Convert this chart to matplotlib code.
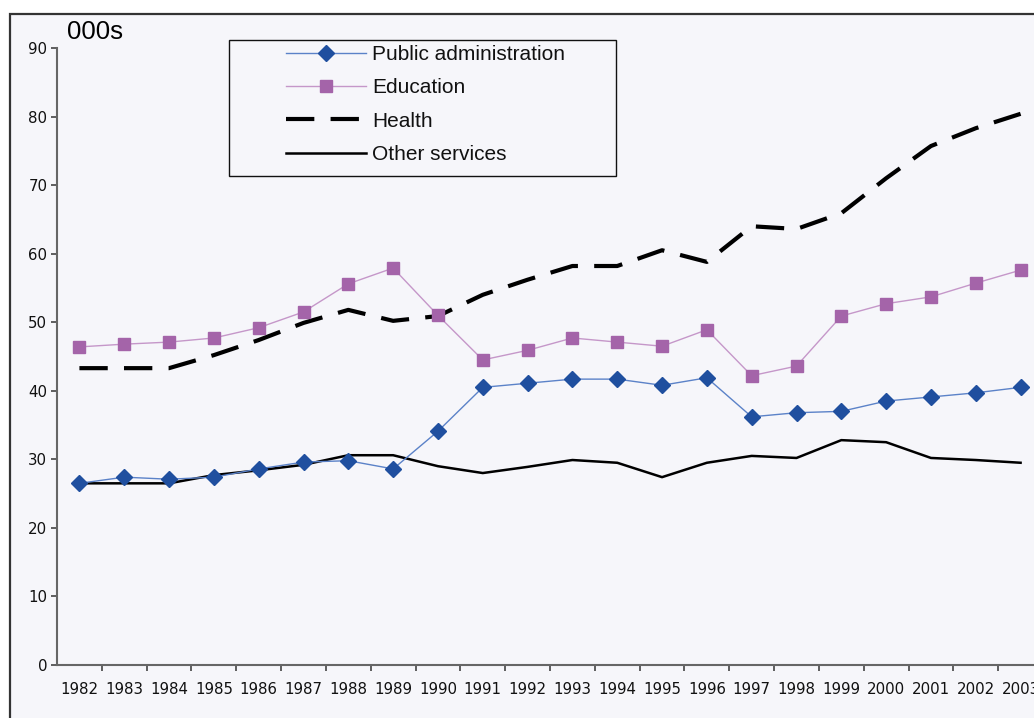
import matplotlib.pyplot as plt
from matplotlib.patches import Rectangle

years = [str(y) for y in range(1982, 2004)]
public_admin = [26.5, 27.4, 27.1, 27.4, 28.6, 29.6, 29.8, 28.6, 34.1, 40.5, 41.1,
                41.7, 41.7, 40.8, 41.9, 36.2, 36.8, 37.0, 38.5, 39.1, 39.7, 40.5]
education = [46.4, 46.8, 47.1, 47.7, 49.2, 51.5, 55.6, 57.9, 51.0, 44.5, 45.9,
             47.7, 47.1, 46.5, 48.9, 42.2, 43.6, 50.9, 52.7, 53.7, 55.7, 57.6]
health = [43.3, 43.3, 43.3, 45.2, 47.4, 49.9, 51.8, 50.2, 50.9, 54.0, 56.2,
          58.2, 58.2, 60.5, 58.8, 64.0, 63.6, 65.9, 71.0, 75.7, 78.3, 80.4]
other_services = [26.5, 26.5, 26.5, 27.7, 28.4, 29.2, 30.6, 30.6, 29.0, 28.0, 28.9,
                  29.9, 29.5, 27.4, 29.5, 30.5, 30.2, 32.8, 32.5, 30.2, 29.9, 29.5]

bg = '#f6f6fa'
W, H = 1034, 718

fig = plt.figure(figsize=(W / 100, H / 100), dpi=100, facecolor='white')

# panel background with its frame (runs off the right and bottom edges)
fig.patches.append(Rectangle((10 / W, -0.1), 1.2, 1.1 - 14 / H,
                             transform=fig.transFigure, facecolor=bg,
                             edgecolor='#333333', linewidth=1.6, zorder=-2))
# legend box, wider than the entries it holds
fig.patches.append(Rectangle((229 / W, 1 - 176 / H), 387 / W, 136 / H,
                             transform=fig.transFigure, facecolor=bg,
                             edgecolor='#111111', linewidth=1.0, zorder=-1))

ax = fig.add_axes([57 / W, 53 / H, 986 / W, 617 / H])
ax.set_facecolor('none')

x = list(range(len(years)))
ax.plot(x, public_admin, color='#5b82c8', lw=1, marker='D', ms=8,
        mfc='#1f4f9f', mec='#1f4f9f', label='Public administration', zorder=4)
ax.plot(x, education, color='#c597c9', lw=1, marker='s', ms=8.2,
        mfc='#a464a9', mec='#a464a9', label='Education', zorder=3)
ax.plot(x, health, color='black', lw=3, dashes=(6.8, 3.9), label='Health', zorder=2)
ax.plot(x, other_services, color='black', lw=1.8, label='Other services', zorder=2)

ax.set_xlim(-0.5, len(years) - 0.5)
ax.set_ylim(0, 90)
ax.set_yticks(range(0, 91, 10))

# year labels sit in the middle of each slot, ticks on the slot edges
ax.set_xticks([i + 0.5 for i in x[:-1]])
ax.set_xticklabels([])
ax.set_xticks(x, minor=True)
ax.set_xticklabels(years, minor=True)
ax.tick_params(axis='x', which='minor', length=0, pad=12, labelsize=10.8,
               labelcolor='#111111')
ax.tick_params(axis='x', which='major', length=4, width=1.2, color='#444444')
ax.tick_params(axis='y', length=4, width=1.2, color='#444444', labelsize=10.8,
               pad=3, labelcolor='#111111')

for side in ['top', 'right']:
    ax.spines[side].set_visible(False)
for side in ['left', 'bottom']:
    ax.spines[side].set_color('#666666')
    ax.spines[side].set_linewidth(1.5)

fig.text(67 / W, 1 - 39 / H, '000s', fontsize=18.5, family='Liberation Sans')

leg = ax.legend(loc='upper left', bbox_to_anchor=(286 / W, 1 - 45 / H),
                bbox_transform=fig.transFigure, borderaxespad=0, frameon=False,
                prop={'family': 'Liberation Sans', 'size': 15},
                handlelength=3.85, handletextpad=0.3, labelspacing=0.69,
                borderpad=0)
for t in leg.get_texts():
    t.set_color('#111111')

plt.savefig('out.png', dpi=100, facecolor='white')
